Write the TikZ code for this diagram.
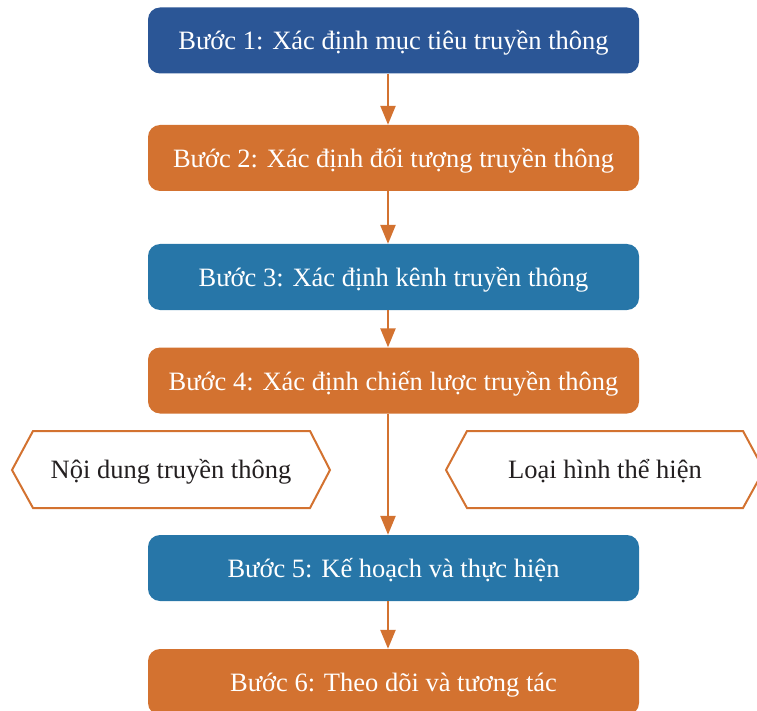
\documentclass[tikz,border=0pt]{standalone}
\usepackage{fontspec}
\setmainfont{Liberation Serif}
\usetikzlibrary{arrows.meta}
\definecolor{dblue}{HTML}{2B5696}
\definecolor{orng}{HTML}{D37230}
\definecolor{mblue}{HTML}{2776A8}
\definecolor{txtdark}{HTML}{231F20}
\tikzset{
  stepbox/.style={rounded corners=12pt, minimum width=491pt, minimum height=66pt, inner sep=0pt,
    text height=19pt, text depth=0pt,
    text=white, font=\fontsize{26.5}{30}\selectfont},
  hextext/.style={inner sep=0pt, text height=16pt, text depth=0pt, text=txtdark, font=\fontsize{26.5}{30}\selectfont},
  hexline/.style={draw=orng, line width=2pt, line join=miter},
  flow/.style={draw=orng, line width=2.4pt, -{Triangle[length=19pt,width=15pt]}}
}
\begin{document}
\begin{tikzpicture}[x=1pt,y=-1pt]
\useasboundingbox (0,0) rectangle (757,711);
\clip (0,0) rectangle (757,711);
\node[stepbox, fill=dblue] (b1) at (393.5,40.5) {Bước 1: Xác định mục tiêu truyền thông};
\node[stepbox, fill=orng] (b2) at (393.5,158) {Bước 2: Xác định đối tượng truyền thông};
\node[stepbox, fill=mblue] (b3) at (393.5,277) {Bước 3: Xác định kênh truyền thông};
\node[stepbox, fill=orng] (b4) at (393.5,380.5) {Bước 4: Xác định chiến lược truyền thông};
\node[stepbox, fill=mblue] (b5) at (393.5,568) {Bước 5: Kế hoạch và thực hiện};
\node[stepbox, fill=orng] (b6) at (393.5,682) {Bước 6: Theo dõi và tương tác};
\coordinate (ax) at (388,0);
\draw[hexline] (12,470) -- (33,431) -- (310,431) -- (330,470) -- (310,508) -- (33,508) -- cycle;
\node[hextext] (h1) at (171,470) {Nội dung truyền thông};
\draw[hexline] (446,470) -- (467,431) -- (743,431) -- (764,470) -- (743,508) -- (467,508) -- cycle;
\node[hextext] (h2) at (605,470) {Loại hình thể hiện};
\draw[flow] (b1.south -| ax) -- (b2.north -| ax);
\draw[flow] (b2.south -| ax) -- (b3.north -| ax);
\draw[flow] (b3.south -| ax) -- (b4.north -| ax);
\draw[flow] (b4.south -| ax) -- (b5.north -| ax);
\draw[flow] (b5.south -| ax) -- (b6.north -| ax);
\end{tikzpicture}
\end{document}
